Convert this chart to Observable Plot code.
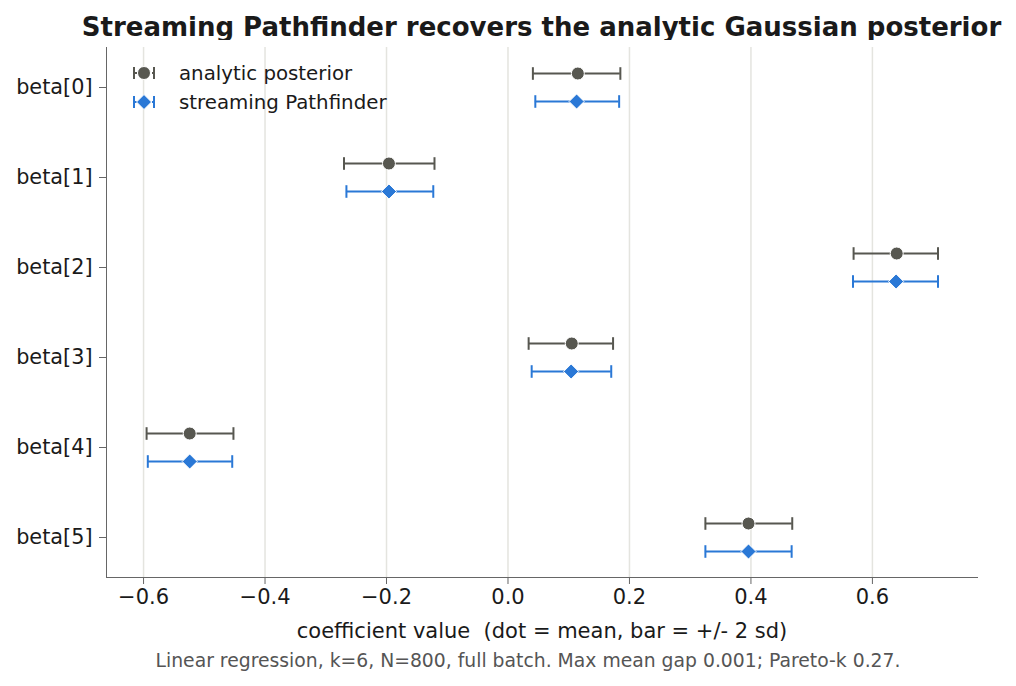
<!DOCTYPE html>
<html>
<head>
<meta charset="utf-8">
<script src="https://cdn.jsdelivr.net/npm/d3@7"></script>
<script src="https://cdn.jsdelivr.net/npm/@observablehq/plot@0.6"></script>
<style>
  html, body { margin: 0; padding: 0; background: #fff; }
  body { width: 1016px; height: 686px; position: relative; overflow: hidden; font-family: "DejaVu Sans", sans-serif; }
  #title { position: absolute; left: 0; width: 1083px; top: 12px; line-height: 30px; text-align: center; font-weight: bold; font-size: 26px; color: #1a1a1a; }
  #chart { position: absolute; left: 0; top: 40px; }
  #caption { position: absolute; left: 0; width: 1056px; top: 650px; line-height: 22px; text-align: center; font-size: 18.8px; color: #555; }
  #legend { position: absolute; left: 128px; top: 58.5px; font-size: 19.8px; color: #1a1a1a; }
  #legend .row { height: 29px; display: flex; align-items: center; }
  #legend svg { margin-right: 22px; }
</style>
</head>
<body>
<div id="title">Streaming Pathfinder recovers the analytic Gaussian posterior</div>
<div id="chart"></div>
<div id="legend"></div>
<div id="caption">Linear regression, k=6, N=800, full batch. Max mean gap 0.001; Pareto-k 0.27.</div>
<script>
// ---- data ----
const params = ["beta[0]", "beta[1]", "beta[2]", "beta[3]", "beta[4]", "beta[5]"];
const analyticMean = [0.115, -0.196, 0.640, 0.105, -0.524, 0.396];
const analyticLo   = [0.041, -0.270, 0.569, 0.034, -0.595, 0.325];
const analyticHi   = [0.185, -0.121, 0.708, 0.173, -0.452, 0.468];
const streamMean   = [0.113, -0.196, 0.639, 0.104, -0.524, 0.396];
const streamLo     = [0.045, -0.266, 0.568, 0.039, -0.593, 0.325];
const streamHi     = [0.183, -0.123, 0.708, 0.170, -0.454, 0.467];
const xTicks = [-0.6, -0.4, -0.2, 0.0, 0.2, 0.4, 0.6];
const seriesNames = ["analytic posterior", "streaming Pathfinder"];

const GRAY = "#575750", BLUE = "#2a78d6";

const analytic = params.map((p, i) => ({param: p, mean: analyticMean[i], lo: analyticLo[i], hi: analyticHi[i]}));
const stream = params.map((p, i) => ({param: p, mean: streamMean[i], lo: streamLo[i], hi: streamHi[i]}));

const capSymbol = {
  draw(ctx, size) {
    const h = Math.sqrt(size / Math.PI);
    ctx.moveTo(0, -h);
    ctx.lineTo(0, h);
  }
};

function errorMarks(rows, color, dy, symbol, r) {
  return [
    Plot.ruleY(rows, {y: "param", x1: "lo", x2: "hi", dy, stroke: color, strokeWidth: 2}),
    Plot.dot(rows, {y: "param", x: "lo", dy, symbol: capSymbol, r: 6.3, stroke: color, strokeWidth: 2, fill: "none"}),
    Plot.dot(rows, {y: "param", x: "hi", dy, symbol: capSymbol, r: 6.3, stroke: color, strokeWidth: 2, fill: "none"}),
    Plot.dot(rows, {y: "param", x: "mean", dy, symbol, r, fill: color, stroke: "white", strokeWidth: 1})
  ];
}

const chart = Plot.plot({
  width: 1016,
  height: 610,
  marginLeft: 106,
  marginRight: 39,
  marginTop: 7,
  marginBottom: 73,
  style: {fontFamily: "DejaVu Sans, sans-serif", fontSize: "21px", color: "#1a1a1a", background: "white"},
  x: {domain: [-0.661, 0.773]},
  y: {domain: params, padding: 0.43},
  marks: [
    Plot.gridX(xTicks, {stroke: "#e4e4df", strokeOpacity: 1, strokeWidth: 1.5}),
    Plot.frame({anchor: "left", stroke: "#666"}),
    Plot.frame({anchor: "bottom", stroke: "#666"}),
    Plot.axisX({ticks: xTicks, tickFormat: d => d3.format(".1f")(d), tickSize: 7, tickPadding: 5, stroke: "#666",
                label: "coefficient value  (dot = mean, bar = +/- 2 sd)", labelAnchor: "center", labelArrow: "none", labelOffset: 60, fontSize: 21}),
    Plot.axisY({tickSize: 7, tickPadding: 7, stroke: "#666", label: null, fontSize: 20.8}),
    ...errorMarks(analytic, GRAY, -14, "circle", 6.5),
    ...errorMarks(stream, BLUE, 14, "diamond2", 6.8)
  ]
});
document.getElementById("chart").appendChild(chart);

// legend
const legend = document.getElementById("legend");
const legendSpec = [
  {name: seriesNames[0], color: GRAY, shape: "circle"},
  {name: seriesNames[1], color: BLUE, shape: "diamond"}
];
legendSpec.forEach(s => {
  const row = document.createElement("div");
  row.className = "row";
  const ns = "http://www.w3.org/2000/svg";
  const svg = document.createElementNS(ns, "svg");
  svg.setAttribute("width", 29); svg.setAttribute("height", 20);
  const mk = (tag, attrs) => { const e = document.createElementNS(ns, tag); for (const k in attrs) e.setAttribute(k, attrs[k]); svg.appendChild(e); };
  mk("line", {x1: 6, x2: 26, y1: 10, y2: 10, stroke: s.color, "stroke-width": 2, "stroke-dasharray": "3 3"});
  mk("line", {x1: 6, x2: 6, y1: 4, y2: 16, stroke: s.color, "stroke-width": 2});
  mk("line", {x1: 26, x2: 26, y1: 4, y2: 16, stroke: s.color, "stroke-width": 2});
  if (s.shape === "circle") mk("circle", {cx: 16, cy: 10, r: 6.5, fill: s.color, stroke: "white", "stroke-width": 1});
  else mk("path", {d: "M16,2.5L23.5,10L16,17.5L8.5,10Z", fill: s.color, stroke: "white", "stroke-width": 1});
  row.appendChild(svg);
  const t = document.createElement("span");
  t.textContent = s.name;
  row.appendChild(t);
  legend.appendChild(row);
});
</script>
</body>
</html>
